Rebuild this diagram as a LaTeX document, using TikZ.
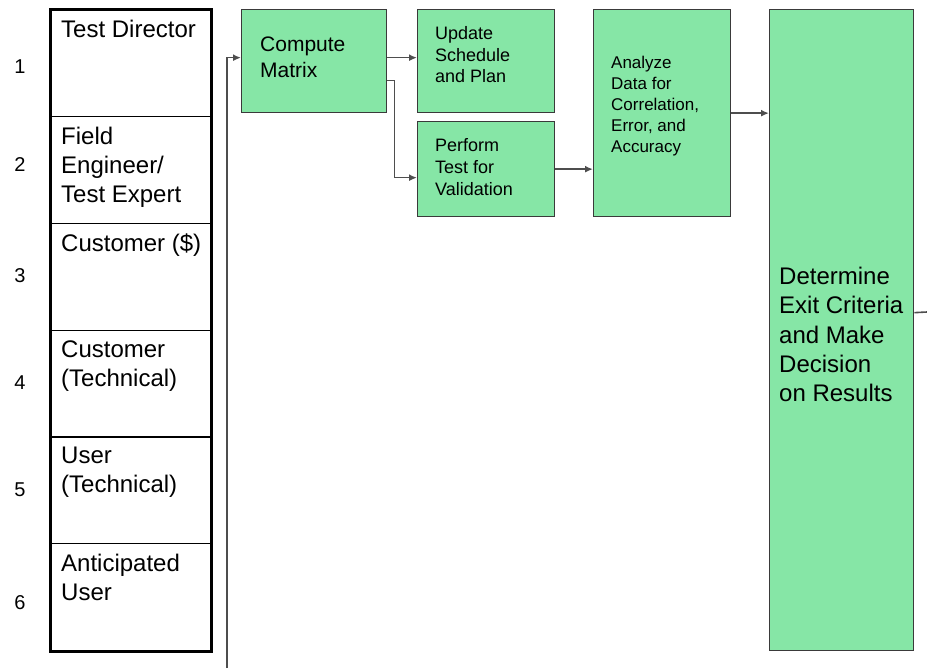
\documentclass[tikz,border=0pt]{standalone}
\usepackage{fontspec}
\setmainfont{Liberation Sans}
\usetikzlibrary{arrows.meta}
\definecolor{boxgreen}{HTML}{86E6A6}
\definecolor{edgegray}{HTML}{3A3A3A}
\definecolor{linkgray}{HTML}{4E4E4E}
\begin{document}
\begin{tikzpicture}[x=1pt,y=-1pt,
  lane/.style={draw=black,line width=1.2pt,minimum width=160pt,minimum height=107pt,inner sep=0pt,anchor=north west},
  lanetext/.style={anchor=north west,inner xsep=11pt,inner ysep=11pt,align=left,font=\fontsize{24}{29}\selectfont},
  lanenum/.style={font=\fontsize{20}{24}\selectfont},
  stepbox/.style={draw=edgegray,fill=boxgreen,line width=1.3pt,anchor=north west,inner sep=0pt},
  steptext/.style={anchor=west,inner sep=0pt,align=left},
  link/.style={draw=linkgray,line width=1.6pt,-{Latex[length=8pt,width=7pt]}},
  plainlink/.style={draw=linkgray,line width=1.6pt}]
\useasboundingbox (0,0) rectangle (927,670);

% swim-lane table
\node[lane] (l1) at (50,9) {};
\node[lane] (l2) at (50,116) {};
\node[lane] (l3) at (50,222.5) {};
\node[lane] (l4) at (50,329.5) {};
\node[lane] (l5) at (50,436) {};
\node[lane] (l6) at (50,543) {};
\draw[line width=3pt,line cap=rect] (l1.north west) rectangle (l6.south east);

\node[lanetext] (t1) at (l1.north west) {Test Director};
\node[lanetext] (t2) at (l2.north west) {Field\\Engineer/\\Test Expert};
\node[lanetext] (t3) at (l3.north west) {Customer (\$)};
\node[lanetext] (t4) at (l4.north west) {Customer\\(Technical)};
\node[lanetext] (t5) at (l5.north west) {User\\(Technical)};
\node[lanetext] (t6) at (l6.north west) {Anticipated\\User};

\node[lanenum] (n1) at (20,67) {1};
\node[lanenum] (n2) at (20,165) {2};
\node[lanenum] (n3) at (20,276) {3};
\node[lanenum] (n4) at (20,383) {4};
\node[lanenum] (n5) at (20,490) {5};
\node[lanenum] (n6) at (20,603) {6};

% process steps
\node[stepbox,minimum width=145pt,minimum height=103pt] (cm) at (241,9) {};
\node[stepbox,minimum width=137pt,minimum height=103pt] (up) at (417,9) {};
\node[stepbox,minimum width=137pt,minimum height=95pt] (pt) at (417,121) {};
\node[stepbox,minimum width=137pt,minimum height=207pt] (an) at (593,9) {};
\node[stepbox,minimum width=144pt,minimum height=641pt] (de) at (769,9) {};

\node[steptext,font=\fontsize{21}{26}\selectfont] (cmt) at (260,57) {Compute\\Matrix};
\node[steptext,font=\fontsize{18}{21.5}\selectfont] (upt) at (435,55) {Update\\Schedule\\and Plan};
\node[steptext,font=\fontsize{18}{22}\selectfont] (ptt) at (435,167) {Perform\\Test for\\Validation};
\node[steptext,font=\fontsize{17}{21}\selectfont] (ant) at (611,106.5) {Analyze\\Data for\\Correlation,\\Error, and\\Accuracy};
\node[steptext,font=\fontsize{24}{29.3}\selectfont] (det) at (779,334.5) {Determine\\Exit Criteria\\and Make\\Decision\\on Results};

% connectors
\coordinate (feed) at (227,668);
\coordinate (exit) at (927,312);
\draw[link] (feed) |- ([yshift=3.5pt]cm.west);
\draw[link] ([yshift=3.5pt]cm.east) -- ([yshift=3.5pt]up.west);
\draw[link] ([yshift=-19.5pt]cm.east) -- ++(7,0) |- ([yshift=-8.5pt]pt.west);
\draw[link] (pt.east) -- (pt.east -| an.west);
\draw[link] (an.east) -- (an.east -| de.west);
\draw[plainlink] ([yshift=17.5pt]de.east) -- (exit);
\end{tikzpicture}
\end{document}
